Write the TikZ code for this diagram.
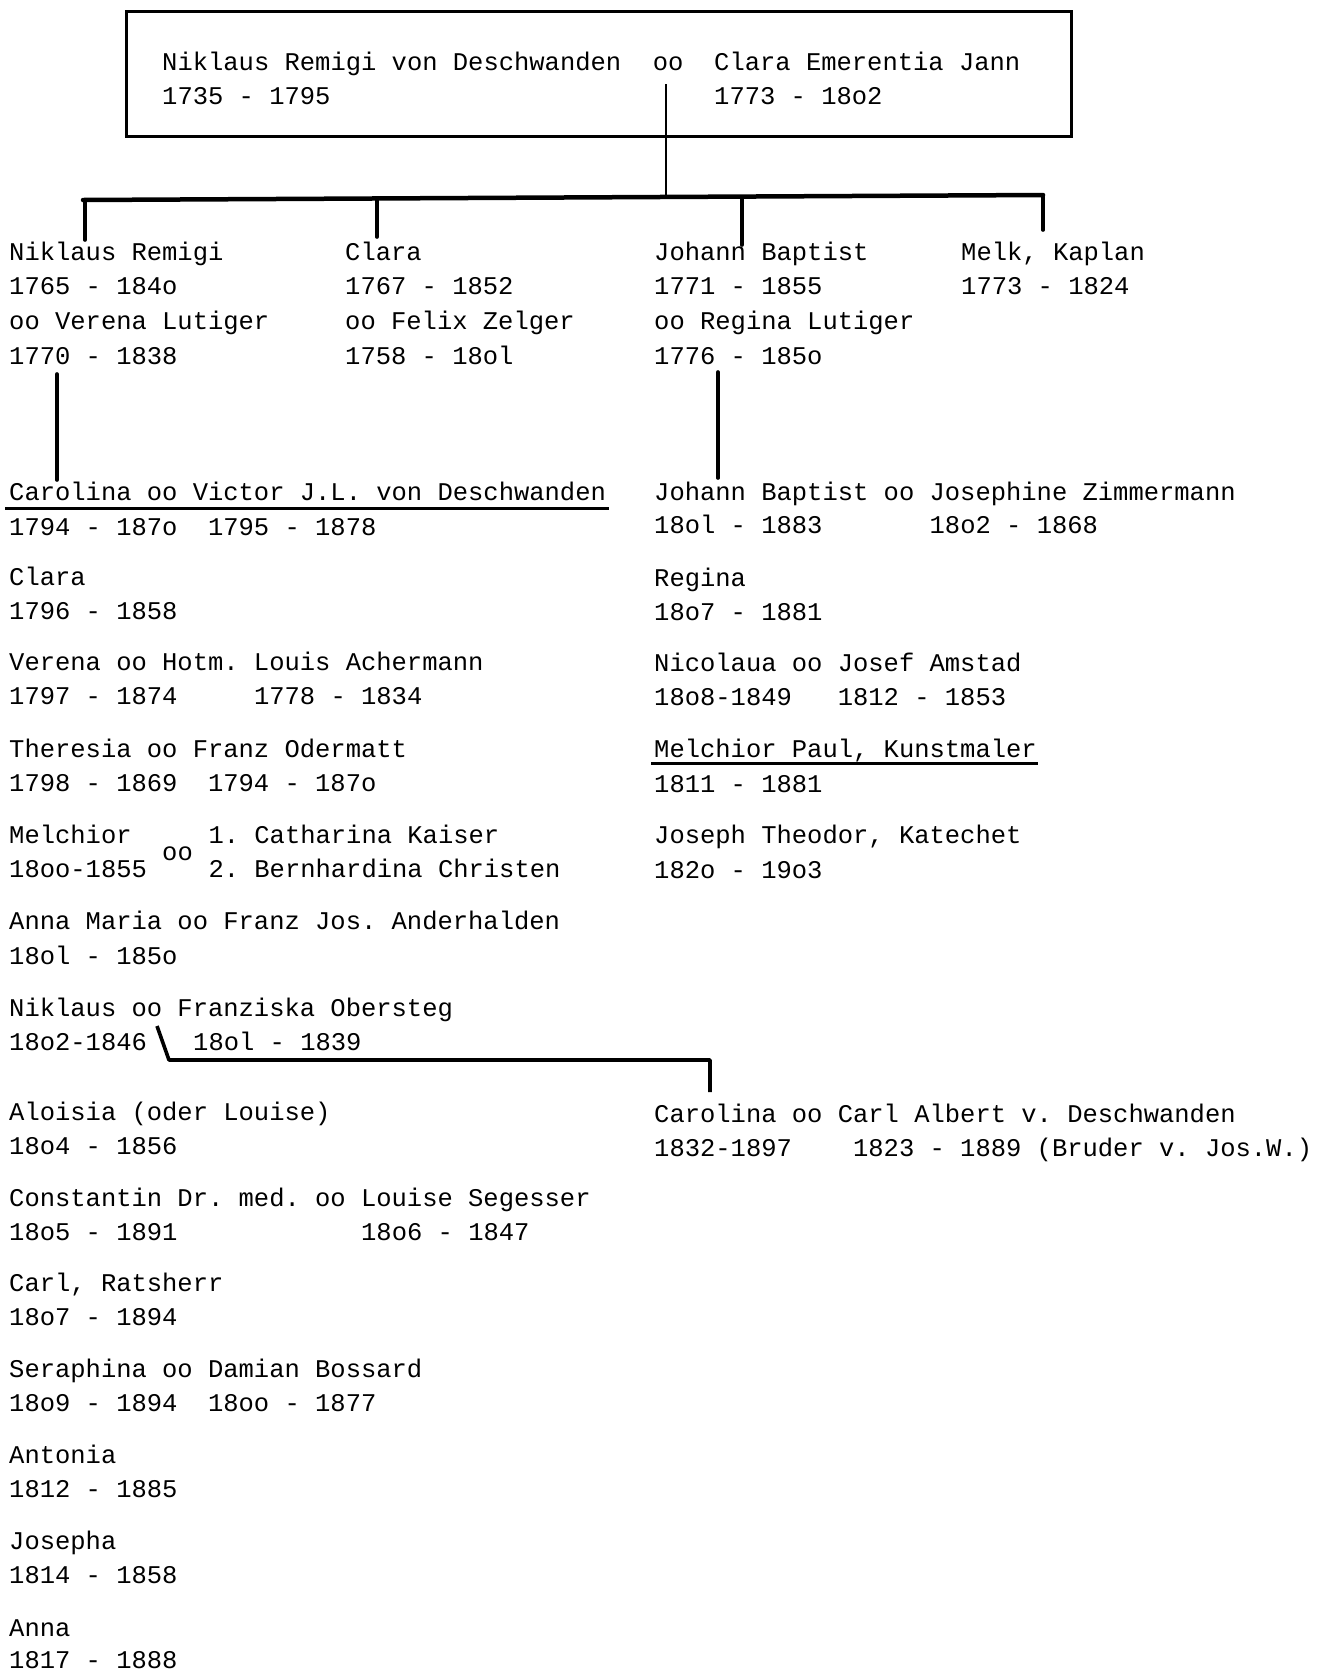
\documentclass[tikz,border=0pt]{standalone}
\usepackage{fontspec}
\setmainfont{Liberation Mono}
\begin{document}
\frenchspacing
\begin{tikzpicture}[x=1pt,y=-1pt,
  txt/.style={anchor=base west,inner sep=0pt,font=\fontsize{25.5}{30}\selectfont},
  thick line/.style={line width=3.6pt,line cap=round},
  bar line/.style={line width=4.5pt,line cap=round},
  thin line/.style={line width=2pt},
  uline/.style={line width=3pt}]
\useasboundingbox (0,0) rectangle (1322,1674);
% top couple
\draw[line width=3pt] (126,11) rectangle (1071,136);
\node[txt] (pa) at (162,70.5) {Niklaus Remigi von Deschwanden};
\node[txt] (oo) at (652.6,70.5) {oo};
\node[txt] (pb) at (714,70.5) {Clara Emerentia Jann};
\node[txt] (pa2) at (162,104.5) {1735 - 1795};
\node[txt] (pb2) at (714,104.5) {1773 - 18o2};
% children
\node[txt] (c1) at (9,260.5) {Niklaus Remigi};
\node[txt] (c1b) at (9,294.7) {1765 - 184o};
\node[txt] (c1c) at (9,329.9) {oo Verena Lutiger};
\node[txt] (c1d) at (9,364.1) {1770 - 1838};
\node[txt] (c2) at (345,260.5) {Clara};
\node[txt] (c2b) at (345,294.7) {1767 - 1852};
\node[txt] (c2c) at (345,329.9) {oo Felix Zelger};
\node[txt] (c2d) at (345,364.1) {1758 - 18ol};
\node[txt] (c3) at (654,260.5) {Johann Baptist};
\node[txt] (c3b) at (654,294.7) {1771 - 1855};
\node[txt] (c3c) at (654,329.9) {oo Regina Lutiger};
\node[txt] (c3d) at (654,364.1) {1776 - 185o};
\node[txt] (c4) at (961,260.5) {Melk, Kaplan};
\node[txt] (c4b) at (961,294.7) {1773 - 1824};
% connectors top
\coordinate (oot) at (666,84);
\coordinate (bl) at (83,200);
\coordinate (br) at (1043,195);
\coordinate (bm) at (666,197.5);
\draw[thin line] (oot) -- (bm);
\draw[bar line] (bl) -- (br);
\draw[thick line] (85,200) -- (85,240);
\draw[thick line] (377,199) -- (377,237);
\draw[thick line] (742,197) -- (742,245);
\draw[thick line] (1043,195) -- (1043,230);
% left column
\node[txt] (l1) at (9,500.8) {Carolina oo Victor J.L. von Deschwanden};
\node[txt] (l1b) at (9,535) {1794 - 187o~~1795 - 1878};
\node[txt] (l2) at (9,585.2) {Clara};
\node[txt] (l2b) at (9,619.3) {1796 - 1858};
\node[txt] (l3) at (9,670.6) {Verena oo Hotm. Louis Achermann};
\node[txt] (l3b) at (9,704.8) {1797 - 1874~~~~~1778 - 1834};
\node[txt] (l4) at (9,757.1) {Theresia oo Franz Odermatt};
\node[txt] (l4b) at (9,791.3) {1798 - 1869~~1794 - 187o};
\node[txt] (l5) at (9,843.6) {Melchior};
\node[txt] (l5b) at (9,877.8) {18oo-1855};
\node[txt] (l5o) at (162,860.5) {oo};
\node[txt] (l5c) at (208.3,843.6) {1. Catharina Kaiser};
\node[txt] (l5d) at (208.3,877.8) {2. Bernhardina Christen};
\node[txt] (l6) at (9,929) {Anna Maria oo Franz Jos. Anderhalden};
\node[txt] (l6b) at (9,964.3) {18ol - 185o};
\node[txt] (l7) at (9,1016.6) {Niklaus oo Franziska Obersteg};
\node[txt] (l7b) at (9,1050.8) {18o2-1846};
\node[txt] (l7c) at (193,1050.8) {18ol - 1839};
\node[txt] (l8) at (9,1120.3) {Aloisia (oder Louise)};
\node[txt] (l8b) at (9,1154.4) {18o4 - 1856};
\node[txt] (l9) at (9,1206.7) {Constantin Dr. med. oo Louise Segesser};
\node[txt] (l9b) at (9,1240.9) {18o5 - 1891~~~~~~~~~~~~18o6 - 1847};
\node[txt] (l10) at (9,1291) {Carl, Ratsherr};
\node[txt] (l10b) at (9,1325.2) {18o7 - 1894};
\node[txt] (l11) at (9,1377.5) {Seraphina oo Damian Bossard};
\node[txt] (l11b) at (9,1411.7) {18o9 - 1894~~18oo - 1877};
\node[txt] (l12) at (9,1463) {Antonia};
\node[txt] (l12b) at (9,1497.1) {1812 - 1885};
\node[txt] (l13) at (9,1549.5) {Josepha};
\node[txt] (l13b) at (9,1583.7) {1814 - 1858};
\node[txt] (l14) at (9,1636) {Anna};
\node[txt] (l14b) at (9,1668.5) {1817 - 1888};
% right column
\node[txt] (r1) at (654,500.8) {Johann Baptist oo Josephine Zimmermann};
\node[txt] (r1b) at (654,533.9) {18ol - 1883~~~~~~~18o2 - 1868};
\node[txt] (r2) at (654,586.2) {Regina};
\node[txt] (r2b) at (654,620.4) {18o7 - 1881};
\node[txt] (r3) at (654,671.7) {Nicolaua oo Josef Amstad};
\node[txt] (r3b) at (654,705.8) {18o8-1849~~~1812 - 1853};
\node[txt] (r4) at (654,757.1) {Melchior Paul, Kunstmaler};
\node[txt] (r4b) at (654,792.3) {1811 - 1881};
\node[txt] (r5) at (654,843.6) {Joseph Theodor, Katechet};
\node[txt] (r5b) at (654,878.8) {182o - 19o3};
\node[txt] (r6) at (654,1122.3) {Carolina oo Carl Albert v. Deschwanden};
\node[txt] (r6b) at (654,1156.5) {1832-1897~~~~1823 - 1889 (Bruder v. Jos.W.)};
% descent connectors
\draw[thick line] (57,374) -- (57,480);
\draw[thick line] (718,372) -- (718,478);
\draw[uline] (5,508) -- (609,508);
\draw[uline] (651,763) -- (1038,763);
\coordinate (k1) at (157,1026);
\coordinate (k2) at (169,1060);
\coordinate (k3) at (710,1092);
\draw[line width=3.6pt,line join=round] (k1) -- (k2) -- (710,1060) -- (k3);
\end{tikzpicture}
\end{document}
